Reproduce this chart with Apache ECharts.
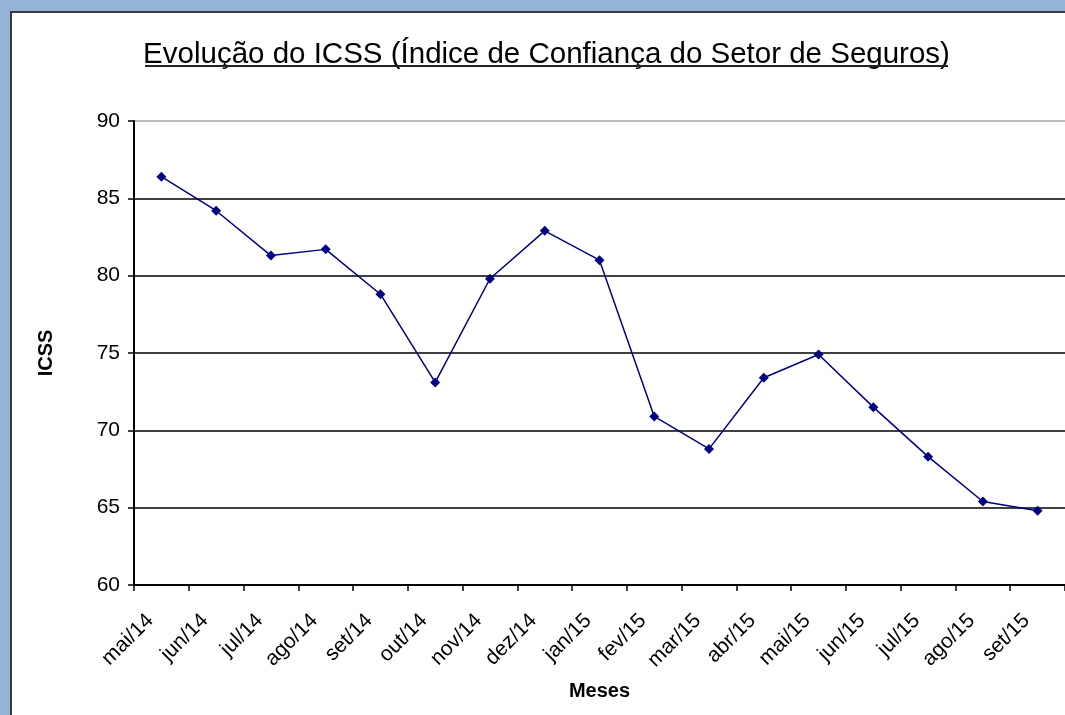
<!DOCTYPE html>
<html>
<head>
<meta charset="utf-8">
<script src="https://cdn.jsdelivr.net/npm/echarts@6/dist/echarts.min.js"></script>
<style>
html,body{margin:0;padding:0;background:#95B3D7;}
#chart{width:1065px;height:715px;}
</style>
</head>
<body>
<div id="chart"></div>
<script>
const titleText = 'Evolução do ICSS (Índice de Confiança do Setor de Seguros)';
const categories = ['mai/14','jun/14','jul/14','ago/14','set/14','out/14','nov/14','dez/14','jan/15','fev/15','mar/15','abr/15','mai/15','jun/15','jul/15','ago/15','set/15'];
const icssValues = [86.4, 84.2, 81.3, 81.7, 78.8, 73.1, 79.8, 82.9, 81.0, 70.9, 68.8, 73.4, 74.9, 71.5, 68.3, 65.4, 64.8];
const yName = 'ICSS';
const xName = 'Meses';

const FONT = '"Liberation Sans", Arial, sans-serif';
const titleSize = 29.5;

const chart = echarts.init(document.getElementById('chart'), null, {renderer: 'canvas'});
chart.setOption({
  backgroundColor: '#95B3D7',
  animation: false,
  graphic: [
    {type: 'rect', z: -10, shape: {x: 11, y: 12, width: 1200, height: 900},
     style: {fill: '#ffffff', stroke: '#3a3a3a', lineWidth: 2}},
    {type: 'line', z: 10, shape: {x1: 145, y1: 66, x2: 948, y2: 66},
     style: {stroke: '#222', lineWidth: 2}}
  ],
  title: {
    text: titleText,
    left: 546.5, top: 40, textAlign: 'center', padding: 0,
    textStyle: {fontFamily: FONT, fontSize: titleSize, fontWeight: 'normal', color: '#000'}
  },
  grid: {left: 134, top: 121, width: 934, height: 464},
  xAxis: {
    type: 'category', data: categories, boundaryGap: true,
    name: xName, nameLocation: 'middle', nameGap: 96,
    nameTextStyle: {fontFamily: FONT, fontSize: 20, fontWeight: 'bold', color: '#000'},
    axisLine: {lineStyle: {color: '#000', width: 2}},
    axisTick: {show: true, length: 6, lineStyle: {color: '#000', width: 1.5}},
    axisLabel: {rotate: 45, interval: 0, margin: 21, padding: [0, 16, 0, 0],
      fontFamily: FONT, fontSize: 21, color: '#000'},
    splitLine: {show: false}
  },
  yAxis: {
    type: 'value', min: 60, max: 90, interval: 5,
    name: yName, nameLocation: 'middle', nameGap: 78, nameRotate: 90,
    nameTextStyle: {fontFamily: FONT, fontSize: 20, fontWeight: 'bold', color: '#000'},
    axisLine: {show: true, lineStyle: {color: '#000', width: 2}},
    axisTick: {show: true, length: 6, lineStyle: {color: '#000', width: 1.5}},
    axisLabel: {margin: 14, fontFamily: FONT, fontSize: 21, color: '#000'},
    splitLine: {show: true, lineStyle: {color: ['#000','#000','#000','#000','#000','#000','#a8a8a8'], width: 1.5}}
  },
  series: [{
    type: 'line', data: icssValues,
    symbol: 'diamond', symbolSize: 10,
    lineStyle: {color: '#000080', width: 1.5},
    itemStyle: {color: '#000080'}
  }]
});
</script>
</body>
</html>
